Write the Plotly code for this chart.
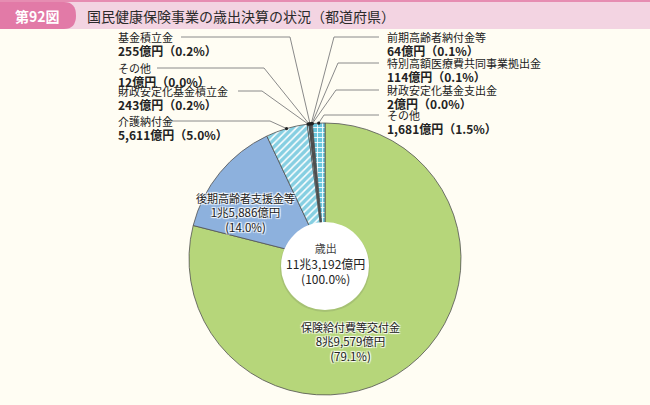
import math
import plotly.graph_objects as go

# ---------------- data ----------------
categories = ["保険給付費等交付金", "後期高齢者支援金等", "介護納付金", "財政安定化基金積立金",
              "その他", "基金積立金", "前期高齢者納付金等", "特別高額医療費共同事業拠出金",
              "財政安定化基金支出金", "その他 "]
values = [89579, 15886, 5611, 243, 12, 255, 64, 114, 2, 1681]
amount_labels = ["8兆9,579億円", "1兆5,886億円", "5,611億円", "243億円", "12億円", "255億円",
                 "64億円", "114億円", "2億円", "1,681億円"]
pct_labels = ["79.1%", "14.0%", "5.0%", "0.2%", "0.0%", "0.2%", "0.1%", "0.1%", "0.0%", "1.5%"]
total_label = "11兆3,192億円"
total_pct = "100.0%"

# ---------------- style ----------------
W, H = 650, 405
BG = "#fffdf3"
FONT = "Noto Sans CJK JP"
colors = ["#b6d67a", "#8db1dd", "#86cfe2", "#9fd6e6", "#ffffff", "#4a4a4a",
          "#e8e8e8", "#2f2f2f", "#ffffff", "#6cc6dc"]
pattern_shapes = ["", "", "/", "/", "", "", "", "", "", "+"]

CX, CY, R = 325, 259, 136   # pie centre/radius in pixels


def px(x):
    return x / W


def py(y):
    return 1 - y / H


fig = go.Figure()
fig.add_trace(go.Pie(
    labels=categories, values=values, sort=False, direction="clockwise", rotation=0,
    marker=dict(colors=colors, line=dict(color="#505050", width=0.8),
                pattern=dict(shape=pattern_shapes, fgcolor="white", size=5, solidity=0.3,
                             fillmode="replace", bgcolor=colors)),
    textinfo="none", hoverinfo="label+value", showlegend=False,
    domain=dict(x=[px(CX - R), px(CX + R)], y=[py(CY + R), py(CY - R)]),
))

# rim points for each slice midpoint, computed from data
tot = sum(values)
cum = 0
rim = []
for v in values:
    mid = (cum + v / 2) / tot * 2 * math.pi
    cum += v
    rim.append((CX + R * math.sin(mid), CY - R * math.cos(mid)))

shapes = []
annotations = []


def note(text, x, y, xa="center", ya="middle", size=11, color="#222", align="center", **font_extra):
    annotations.append(dict(text=text, x=px(x), y=py(y), xref="paper", yref="paper",
                            xanchor=xa, yanchor=ya, align=align, showarrow=False,
                            font=dict(family=FONT, size=size, color=color, **font_extra)))


# title band
shapes.append(dict(type="rect", xref="paper", yref="paper", x0=0, x1=1, y0=py(29), y1=1,
                   fillcolor="#f3d4e2", line=dict(width=0), layer="below"))
shapes.append(dict(type="rect", xref="paper", yref="paper", x0=0, x1=1, y0=py(2), y1=1,
                   fillcolor="#e68db2", line=dict(width=0)))
shapes.append(dict(type="path", xref="paper", yref="paper",
                   path=f"M 0 {py(2)} L {px(64)} {py(2)} Q {px(76)} {py(2)} {px(76)} {py(15.5)} "
                        f"Q {px(76)} {py(29)} {px(64)} {py(29)} L 0 {py(29)} Z",
                   fillcolor="#e27aa7", line=dict(width=0)))
note("<b>第92図</b>", 37, 16, size=14, color="white")
note("国民健康保険事業の歳出決算の状況（都道府県）", 85, 16, xa="left", size=14, color="#2a2a2a")

# centre hole
HX, HY, HR = 325, 266, 44
shapes.append(dict(type="circle", xref="paper", yref="paper",
                   x0=px(HX - HR - 1), x1=px(HX + HR + 1), y0=py(HY + HR + 2), y1=py(HY - HR + 1),
                   fillcolor="rgba(80,80,80,0.15)", line=dict(width=0)))
shapes.append(dict(type="circle", xref="paper", yref="paper",
                   x0=px(HX - HR), x1=px(HX + HR), y0=py(HY + HR), y1=py(HY - HR),
                   fillcolor="white", line=dict(width=0)))
note(f"<span style='font-size:11px;color:#444'>歳出</span><br>{total_label}<br>({total_pct})",
     HX, HY - 3, size=12)

# inside labels
shadow = "1px 1px 1px white, -1px -1px 1px white, 1px -1px 1px white, -1px 1px 1px white"
inside = {0: (350, 341), 1: (245, 212)}
for i, (x, y) in inside.items():
    note(f"{categories[i].strip()}<br><span style='font-size:11.5px'>{amount_labels[i]}<br>({pct_labels[i]})</span>",
         x, y, size=11, shadow=shadow)

# outside labels: index -> (label x, first-line y, line start x, elbow x)
outside = {
    5: (116, 37, 181, 290),
    4: (116, 68, 157, 264),
    3: (116, 91, 238, 262),
    2: (116, 121, 165, 270),
    6: (385, 37, 379, 334),
    7: (385, 63, 379, 338),
    8: (385, 90, 379, 336),
    9: (385, 115, 379, 324),
}
for i, (lx, ly, ex, elx) in outside.items():
    note(f"{categories[i].strip()}<br><span style='font-size:12px'><b>{amount_labels[i]}（{pct_labels[i]}）</b></span>",
         lx, ly + 7, xa="left", align="left", size=11)
    rx, ry = rim[i]
    shapes.append(dict(type="path", xref="paper", yref="paper",
                       path=f"M {px(ex)} {py(ly)} L {px(elx)} {py(ly)} L {px(rx)} {py(ry)}",
                       line=dict(color="#8a8a8a", width=1)))
    shapes.append(dict(type="circle", xref="paper", yref="paper",
                       x0=px(rx - 1.6), x1=px(rx + 1.6), y0=py(ry + 1.6), y1=py(ry - 1.6),
                       fillcolor="#222", line=dict(width=0)))

fig.update_layout(width=W, height=H, margin=dict(l=0, r=0, t=0, b=0),
                  paper_bgcolor=BG, plot_bgcolor=BG, shapes=shapes, annotations=annotations,
                  font=dict(family=FONT))
fig.write_html("out.html")
